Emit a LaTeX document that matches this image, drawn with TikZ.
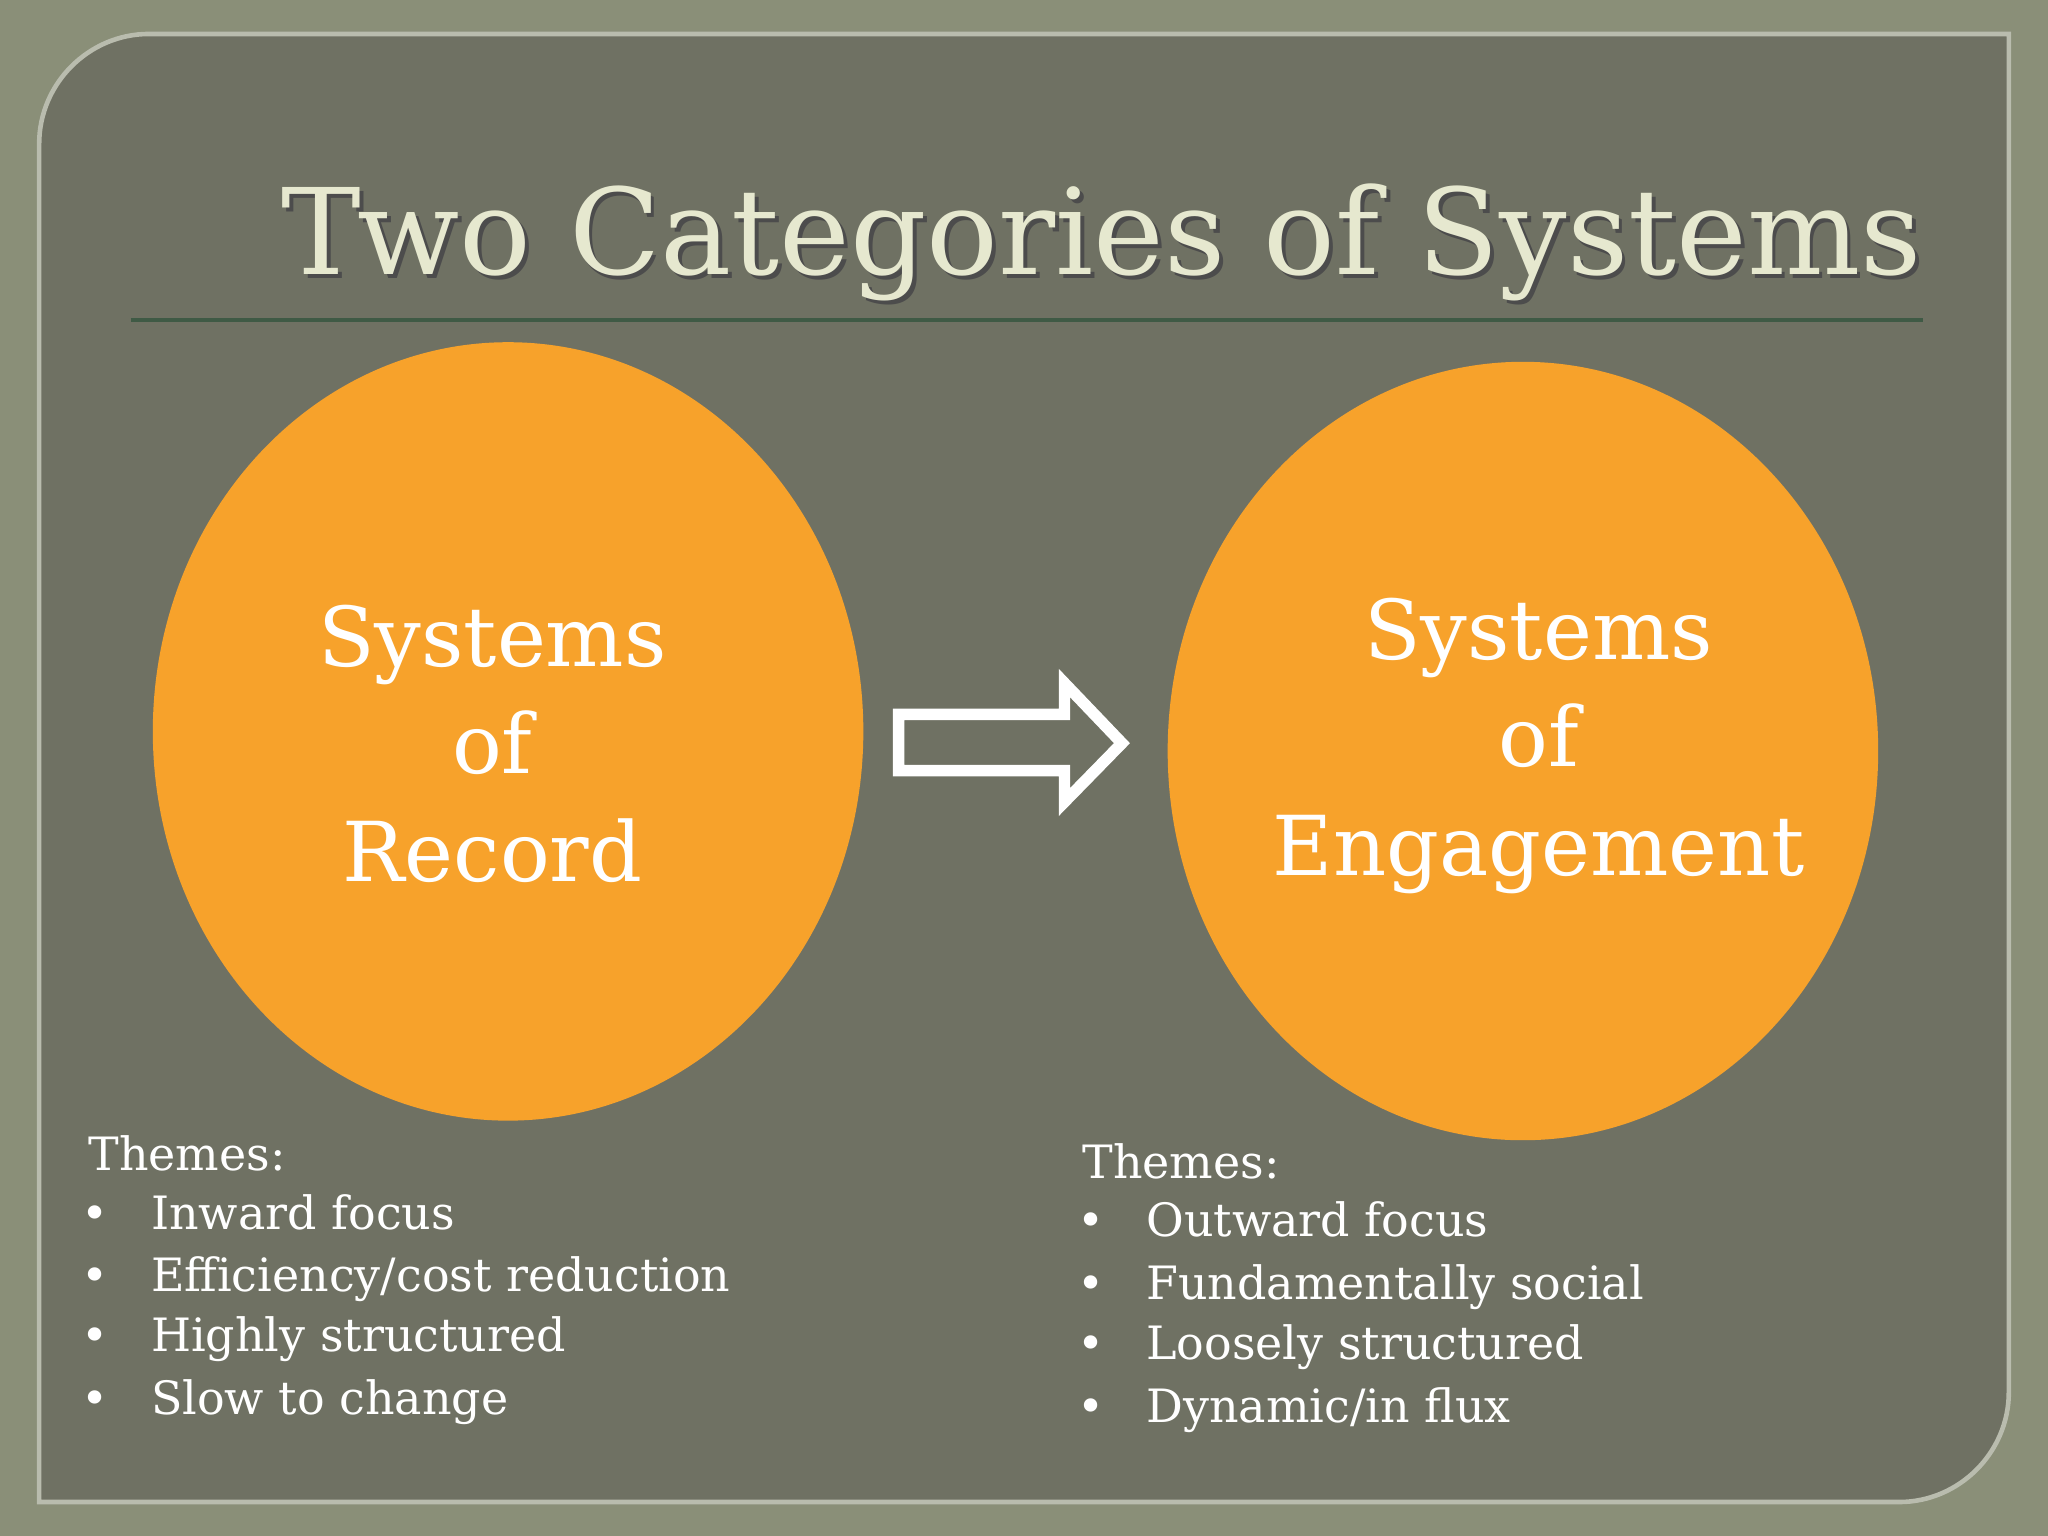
\documentclass[tikz,border=0pt]{standalone}
\usepackage{fontspec}
\setmainfont{DejaVu Serif}
\begin{document}
\begin{tikzpicture}[x=0.01cm,y=-0.01cm,
  circ/.style={fill=orange1,draw=none},
  big/.style={text=white,font=\fontsize{18}{18}\selectfont,anchor=base},
  item/.style={text=white,font=\fontsize{10}{10}\selectfont,anchor=base west,inner sep=0pt},
  bul/.style={text=white,font=\fontsize{10}{10}\selectfont,anchor=base,inner sep=0pt}]
\definecolor{orange1}{HTML}{F7A22B}
\definecolor{bgout}{HTML}{8A8F78}
\definecolor{panel}{HTML}{6F7163}
\definecolor{titlec}{HTML}{E6E8CF}
\definecolor{rulec}{HTML}{3F5A45}
\useasboundingbox (0,0) rectangle (1568,1176);
\fill[bgout] (0,0) rectangle (1568,1176);
\fill[panel,draw=bgout!60!white,line width=1pt] (30,1150) -- (30,110) .. controls (30,64) and (68,26) .. (114,26) -- (1538,26) -- (1538,1066) .. controls (1538,1112) and (1500,1150) .. (1454,1150) -- cycle;
\node[anchor=base east,text=black!70,font=\fontsize{26}{26}\selectfont,inner sep=0pt] at (1475,213) {Two Categories of Systems};
\node[anchor=base east,text=titlec,font=\fontsize{26}{26}\selectfont,inner sep=0pt] (title) at (1472,210) {Two Categories of Systems};
\draw[rulec,line width=1pt] (100,245) coordinate (r1) -- (1472,245) coordinate (r2);
\fill[circ] (389,560) ellipse [x radius=272,y radius=298];
\fill[circ] (1166,575) ellipse [x radius=272,y radius=298];
\node[big] (l1) at (377,510) {Systems};
\node[big] (l2) at (377,592) {of};
\node[big] (l3) at (377,675) {Record};
\node[big] (r1t) at (1178,505) {Systems};
\node[big] (r2t) at (1178,587) {of};
\node[big] (r3t) at (1178,670) {Engagement};
\draw[white,line width=2.5pt,line join=miter] (688,547) -- (815,547) -- (815,523) -- (859,569) -- (815,614) -- (815,590) -- (688,590) -- cycle;
\node[item] (tl) at (67,896) {Themes:};
\foreach \y/\t in {941/{Inward focus},989/{Efficiency/cost reduction},1035/{Highly structured},1083/{Slow to change}}{
  \node[bul] at (73,\y) {•};
  \node[item] at (115,\y) {\t};}
\node[item] (tr) at (828,902) {Themes:};
\foreach \y/\t in {947/{Outward focus},995/{Fundamentally social},1041/{Loosely structured},1089/{Dynamic/in flux}}{
  \node[bul] at (835,\y) {•};
  \node[item] at (877,\y) {\t};}
\end{tikzpicture}
\end{document}
